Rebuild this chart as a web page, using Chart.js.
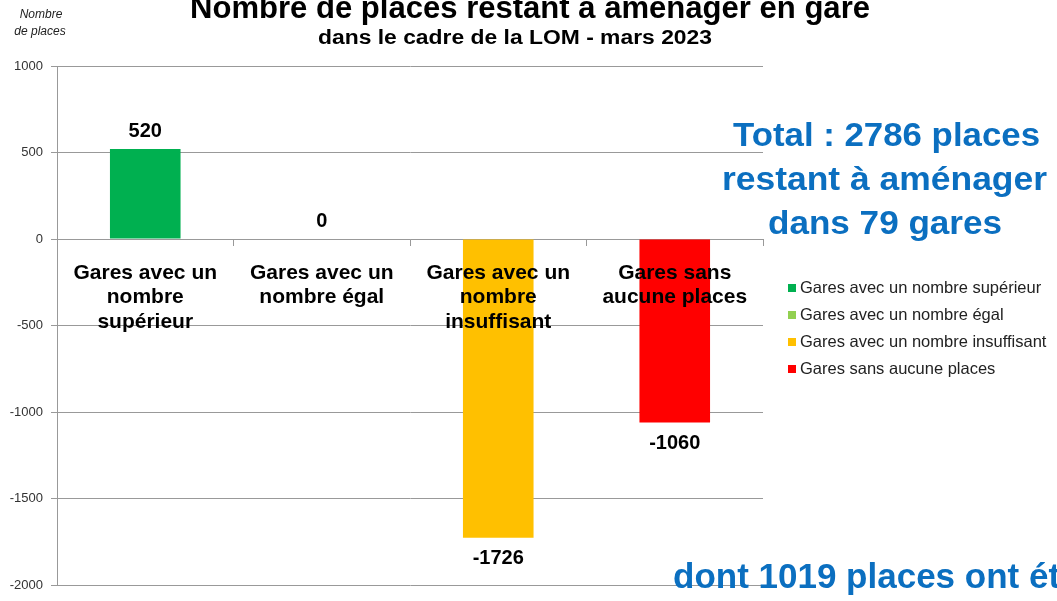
<!DOCTYPE html>
<html>
<head>
<meta charset="utf-8">
<script src="https://cdn.jsdelivr.net/npm/chart.js@4.4.0/dist/chart.umd.min.js"></script>
<style>
  body { margin: 0; background: #fff; }
  canvas { display: block; }
</style>
</head>
<body>
<canvas id="placesChart" width="1057" height="601"></canvas>
<script>
const categories = ['Gares avec un nombre supérieur', 'Gares avec un nombre égal', 'Gares avec un nombre insuffisant', 'Gares sans aucune places'];
const axisLabels = [['Gares avec un', 'nombre', 'supérieur'], ['Gares avec un', 'nombre égal'], ['Gares avec un', 'nombre', 'insuffisant'], ['Gares sans', 'aucune places']];
const values = [520, 0, -1726, -1060];
const barColors = ['#00b050', '#92d050', '#ffc000', '#ff0000'];
const yMin = -2000;
const yMax = 1000;
const yStep = 500;

const FONT = 'Arial, "Liberation Sans", sans-serif';
const BLUE = '#0b6fc0';

// draws text squeezed/stretched to a given width
function fitText(ctx, text, left, y, font, width, color) {
    ctx.save();
    ctx.font = font;
    ctx.fillStyle = color;
    ctx.textAlign = 'left';
    ctx.textBaseline = 'middle';
    const w = ctx.measureText(text).width;
    ctx.translate(left, y);
    ctx.scale(width / w, 1);
    ctx.fillText(text, 0, 0);
    ctx.restore();
}

function plainText(ctx, text, x, y, font, color, align) {
    ctx.save();
    ctx.font = font;
    ctx.fillStyle = color;
    ctx.textAlign = align || 'left';
    ctx.textBaseline = 'middle';
    ctx.fillText(text, x, y);
    ctx.restore();
}

const annotations = {
    id: 'annotations',
    afterDraw(chart) {
        const ctx = chart.ctx;
        const yScale = chart.scales.y;
        const meta = chart.getDatasetMeta(0);

        // titles
        fitText(ctx, 'Nombre de places restant à aménager en gare', 190, 9, 'bold 31px ' + FONT, 680, '#000');
        fitText(ctx, 'dans le cadre de la LOM - mars 2023', 318, 38, 'bold 20px ' + FONT, 394, '#000');
        plainText(ctx, 'Nombre', 41, 15, 'italic 12px ' + FONT, '#222', 'center');
        plainText(ctx, 'de places', 40, 32, 'italic 12px ' + FONT, '#222', 'center');

        // value labels
        values.forEach((v, i) => {
            const x = meta.data[i].x;
            const y = yScale.getPixelForValue(v) + (v < 0 ? 21 : -17.5);
            plainText(ctx, String(v), x, y, 'bold 20px ' + FONT, '#000', 'center');
        });

        // legend
        categories.forEach((c, i) => {
            const y = 288 + i * 27;
            ctx.fillStyle = barColors[i];
            ctx.fillRect(788, y - 4, 8, 8);
            plainText(ctx, c, 800, y, '16.5px ' + FONT, '#222', 'left');
        });

        // blue comments
        fitText(ctx, 'Total : 2786 places', 733, 137, 'bold 33px ' + FONT, 307, BLUE);
        fitText(ctx, 'restant à aménager', 722, 181, 'bold 33px ' + FONT, 325, BLUE);
        fitText(ctx, 'dans 79 gares', 768, 225, 'bold 33px ' + FONT, 234, BLUE);
        plainText(ctx, 'dont 1019 places ont été', 673, 578, 'bold 35px ' + FONT, BLUE, 'left');
    }
};

new Chart(document.getElementById('placesChart'), {
    type: 'bar',
    data: {
        labels: axisLabels,
        datasets: [{
            data: values,
            backgroundColor: barColors,
            borderWidth: 0,
            categoryPercentage: 1,
            barPercentage: 0.4
        }]
    },
    options: {
        responsive: false,
        animation: false,
        layout: {
            padding: { left: 0, right: 294, top: 66, bottom: 11 }
        },
        plugins: {
            legend: { display: false },
            tooltip: { enabled: false }
        },
        scales: {
            x: {
                position: { y: 0 },
                grid: { drawOnChartArea: false, tickLength: 6, color: '#999' },
                border: { color: '#999' },
                ticks: {
                    z: 1,
                    padding: 16,
                    maxRotation: 0,
                    autoSkip: false,
                    color: '#000',
                    font: { family: FONT, size: 21, weight: 'bold', lineHeight: 1.16 }
                }
            },
            y: {
                min: yMin,
                max: yMax,
                afterFit(scale) { scale.width = 57; },
                grid: { color: '#999', tickLength: 6 },
                border: { color: '#999' },
                ticks: {
                    stepSize: yStep,
                    padding: 8,
                    color: '#333',
                    font: { family: FONT, size: 13 },
                    callback: (v) => String(v)
                }
            }
        }
    },
    plugins: [annotations]
});
</script>
</body>
</html>
